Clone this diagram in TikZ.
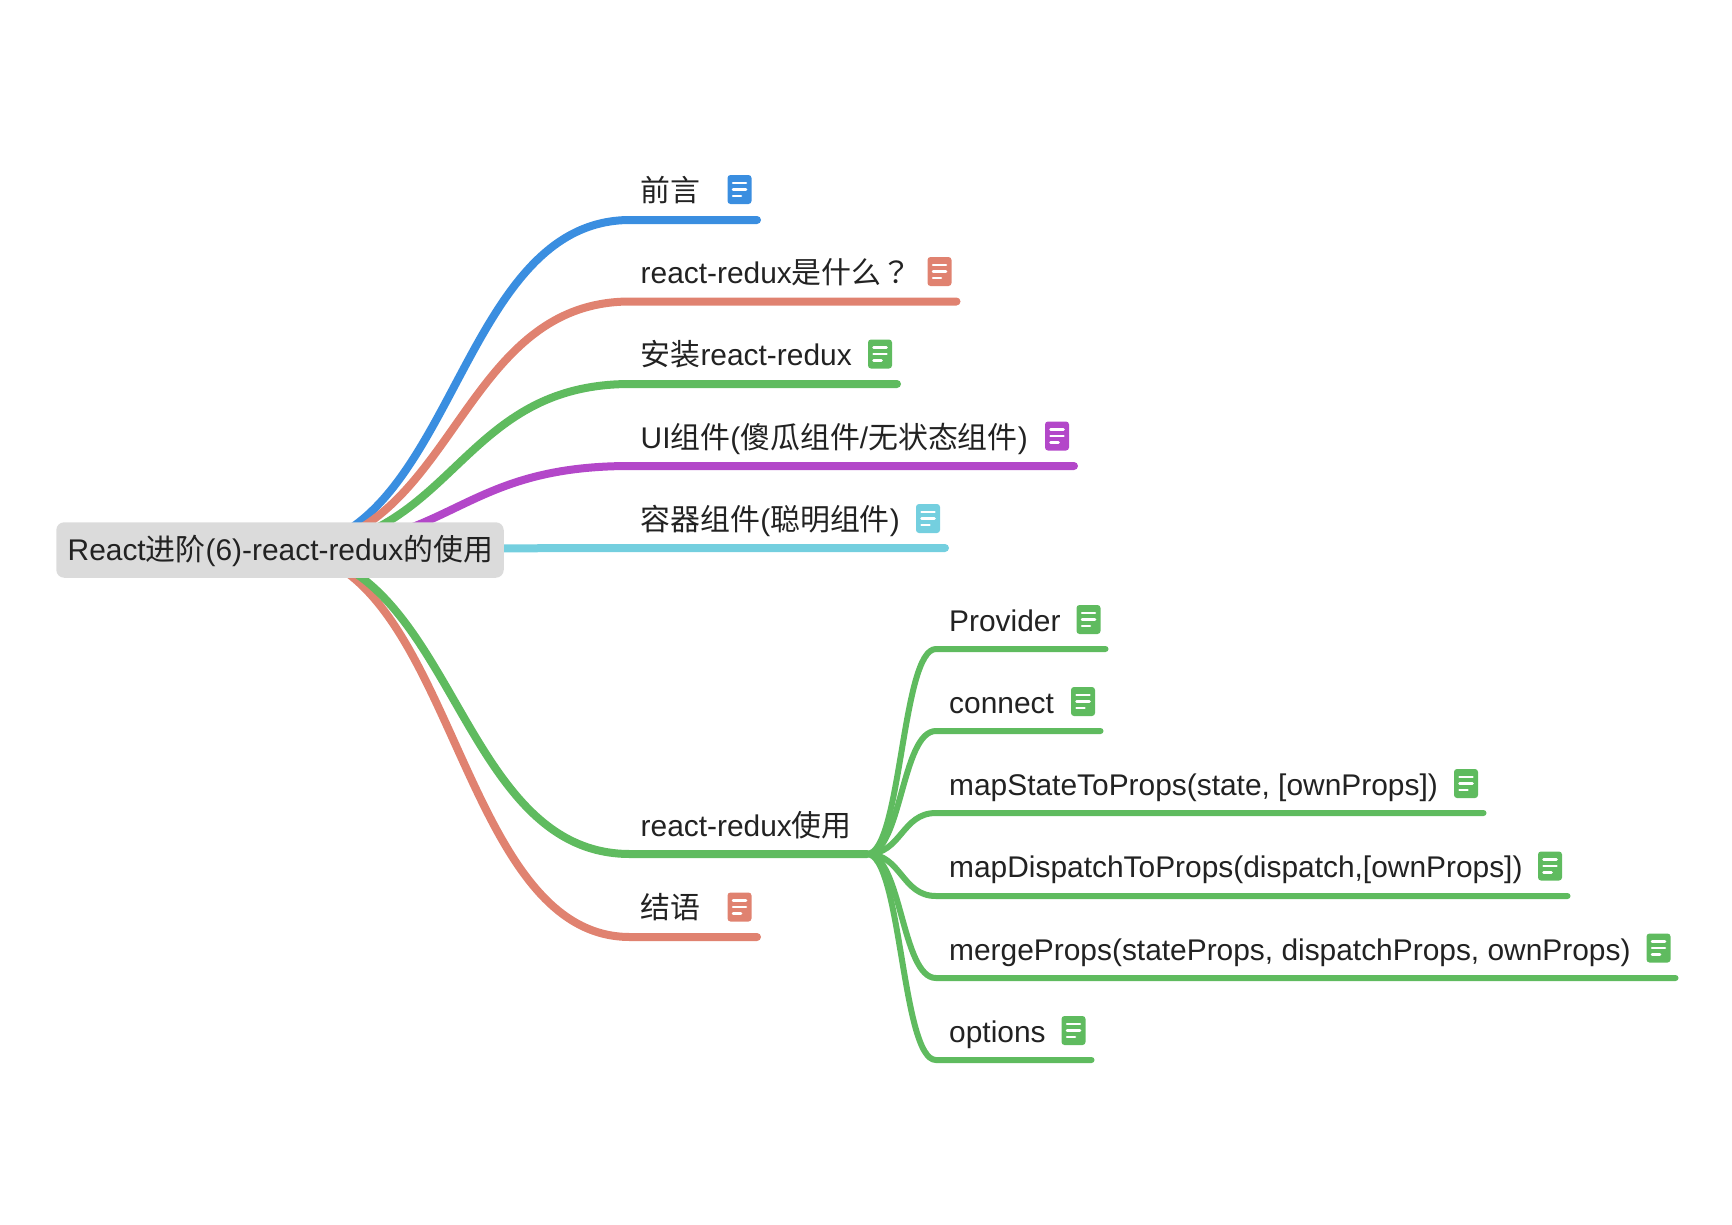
\documentclass[tikz,border=0pt]{standalone}
\usepackage{fontspec}
\setmainfont{Liberation Sans}
\newfontfamily\cjk{Noto Sans CJK SC}
\newfontfamily\cjktc{Noto Sans CJK TC}
\usetikzlibrary{calc,backgrounds}
\definecolor{cblue}{HTML}{3A8EE0}
\definecolor{csalmon}{HTML}{E08270}
\definecolor{cgreen}{HTML}{5FBB5F}
\definecolor{cpurple}{HTML}{B347C9}
\definecolor{ccyan}{HTML}{74CFDF}
\definecolor{cink}{HTML}{222222}
\newcommand\zh[1]{{\cjk #1}}
\tikzset{
  x=1pt,y=-1pt,
  label text/.style={anchor=base west,inner sep=0pt,text=cink,font=\fontsize{29.9}{36}\selectfont},
  root box/.style={rectangle,rounded corners=8pt,fill=black!14,minimum width=447.5pt,minimum height=55.5pt,inner sep=0pt,text=cink,font=\fontsize{29.9}{36}\selectfont},
  note icon/.style={rectangle,rounded corners=3pt,fill=#1,minimum width=24pt,minimum height=29pt,inner sep=0pt,
    path picture={
      \draw[white,line width=2.5pt,line cap=round] ([shift={(-6.5pt,6.5pt)}]path picture bounding box.center) -- ++(13pt,0pt);
      \draw[white,line width=2.5pt,line cap=round] ([shift={(-6.5pt,0pt)}]path picture bounding box.center) -- ++(13pt,0pt);
      \draw[white,line width=2.5pt,line cap=round] ([shift={(-6.5pt,-6.5pt)}]path picture bounding box.center) -- ++(8pt,0pt);
    }},
  main link/.style={draw=#1,line width=8pt,line cap=round},
  sub link/.style={draw=#1,line width=6pt,line cap=round},
}
% #1 style, #2 from, #3 knee, #4 end
\newcommand\curvelink[4]{%
  \coordinate (mid) at ($(#2)!.5!(#3)$);
  \draw[#1] (#2) .. controls (mid |- #2) and (mid |- #3) .. (#3) -- (#4);
}
\begin{document}
\begin{tikzpicture}
\useasboundingbox (0,0) rectangle (1732,1224);
\node[root box] (root) at (280,550) {};
\node[label text] (roott) at (67.5,560.5) {React\zh{进阶}(6)-react-redux\zh{的使用}};

% main branch coordinates
\coordinate (k1) at (630,220);  \coordinate (e1) at (757,220);
\coordinate (k2) at (630,301.5);\coordinate (e2) at (956.5,301.5);
\coordinate (k3) at (630,384);  \coordinate (e3) at (897,384);
\coordinate (k4) at (630,466);  \coordinate (e4) at (1074,466);
\coordinate (k5) at (630,548);  \coordinate (e5) at (945,548);
\coordinate (k6) at (630,854);  \coordinate (e6) at (867,854);
\coordinate (k7) at (630,937);  \coordinate (e7) at (757,937);
% sub branch coordinates
\coordinate (s1) at (936,649);  \coordinate (t1) at (1105.5,649);
\coordinate (s2) at (936,731);  \coordinate (t2) at (1100.5,731);
\coordinate (s3) at (936,813);  \coordinate (t3) at (1483.5,813);
\coordinate (s4) at (936,896);  \coordinate (t4) at (1567.5,896);
\coordinate (s5) at (936,978);  \coordinate (t5) at (1675.5,978);
\coordinate (s6) at (936,1060); \coordinate (t6) at (1091.5,1060);

% labels
\node[label text] (l1) at (640.5,201) {\zh{前言}};
\node[label text] (l2) at (640.5,283) {react-redux\zh{是什么}{\cjktc ？}};
\node[label text] (l3) at (640.5,365) {\zh{安装}react-redux};
\node[label text] (l4) at (640.5,448) {UI\zh{组件}(\zh{傻瓜组件}/\zh{无状态组件})};
\node[label text] (l5) at (640.5,530) {\zh{容器组件}(\zh{聪明组件})};
\node[label text] (l6) at (640.5,836) {react-redux\zh{使用}};
\node[label text] (l7) at (640.5,918.5) {\zh{结语}};
\node[label text] (m1) at (949,631) {Provider};
\node[label text] (m2) at (949,713) {connect};
\node[label text] (m3) at (949,795) {mapStateToProps(state, [ownProps])};
\node[label text] (m4) at (949,877) {mapDispatchToProps(dispatch,[ownProps])};
\node[label text] (m5) at (949,960) {mergeProps(stateProps, dispatchProps, ownProps)};
\node[label text] (m6) at (949,1042) {options};

% note icons
\node[note icon=cblue] (i1) at (739.5,189.5) {};
\node[note icon=csalmon] (i2) at (939.5,271.5) {};
\node[note icon=cgreen] (i3) at (880,354) {};
\node[note icon=cpurple] (i4) at (1057,436) {};
\node[note icon=ccyan] (i5) at (928,518.5) {};
\node[note icon=csalmon] (i7) at (739.5,907) {};
\node[note icon=cgreen] (j1) at (1088.5,619.5) {};
\node[note icon=cgreen] (j2) at (1083,701.5) {};
\node[note icon=cgreen] (j3) at (1466,783.5) {};
\node[note icon=cgreen] (j4) at (1550,866) {};
\node[note icon=cgreen] (j5) at (1658.5,948) {};
\node[note icon=cgreen] (j6) at (1073.5,1030.5) {};

% connectors behind everything
\begin{pgfonlayer}{background}
\curvelink{main link=cblue}{root.center}{k1}{e1}
\curvelink{main link=csalmon}{root.center}{k2}{e2}
\curvelink{main link=cgreen}{root.center}{k3}{e3}
\curvelink{main link=cpurple}{root.center}{k4}{e4}
\curvelink{main link=ccyan}{root.center}{k5}{e5}
\curvelink{main link=csalmon}{root.center}{k7}{e7}
\curvelink{main link=cgreen}{root.center}{k6}{e6}
\curvelink{sub link=cgreen}{e6}{s1}{t1}
\curvelink{sub link=cgreen}{e6}{s2}{t2}
\curvelink{sub link=cgreen}{e6}{s3}{t3}
\curvelink{sub link=cgreen}{e6}{s4}{t4}
\curvelink{sub link=cgreen}{e6}{s5}{t5}
\curvelink{sub link=cgreen}{e6}{s6}{t6}
\end{pgfonlayer}
\end{tikzpicture}
\end{document}
